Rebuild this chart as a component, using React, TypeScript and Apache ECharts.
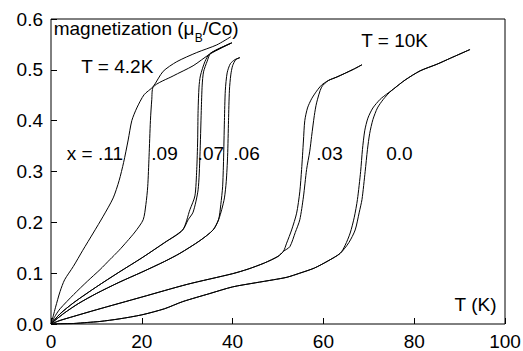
import React, { useEffect, useRef } from "react";
import * as echarts from "echarts";

// axis ticks
const xTickValues = [0, 20, 40, 60, 80, 100];
const yTickValues = [0, 0.1, 0.2, 0.3, 0.4, 0.5, 0.6];

// x = .11 (single curve)
const x11: number[][] = [
  [0, 0], [0.5, 0.016], [1, 0.033], [2, 0.064], [3, 0.087], [4.9, 0.113], [7, 0.145],
  [9.3, 0.179], [11.5, 0.212], [13.7, 0.248], [15, 0.282], [16, 0.318], [17, 0.362],
  [17.8, 0.4], [18.9, 0.425], [20.5, 0.451], [22.5, 0.467], [24.7, 0.497], [27.7, 0.516],
  [32.1, 0.534], [36.5, 0.549], [39.6, 0.565],
];

// x = .09 (single curve)
const x09: number[][] = [
  [0, 0], [1, 0.017], [2, 0.03], [5, 0.058], [8, 0.084], [10.8, 0.107], [13, 0.127],
  [15, 0.145], [16.7, 0.162], [18.5, 0.181], [20.3, 0.205], [20.9, 0.235], [21.3, 0.27],
  [21.6, 0.33], [21.9, 0.4], [22.2, 0.442], [22.5, 0.466], [26.9, 0.488], [31.3, 0.508],
  [35, 0.531], [39.8, 0.553],
];

// x = .07 (two curves sharing the low-field part)
const x07Low: number[][] = [
  [0, 0], [2, 0.02], [5, 0.042], [10, 0.073], [15, 0.102], [20, 0.13], [25, 0.16], [29, 0.185],
];
const x07Left: number[][] = [
  [30.6, 0.225], [31.7, 0.252], [32.1, 0.304], [32.3, 0.36], [32.4, 0.42], [32.6, 0.466],
  [32.9, 0.488], [33.9, 0.516], [35, 0.532], [39.8, 0.553],
];
const x07Right: number[][] = [
  [30.2, 0.205], [31.3, 0.22], [32.4, 0.264], [32.8, 0.33], [33.1, 0.42], [33.3, 0.47],
  [33.6, 0.496], [34.4, 0.517], [35.2, 0.533], [39.8, 0.553],
];

// x = .06
const x06Low: number[][] = [
  [0, 0], [1, 0.008], [3, 0.022], [6, 0.04], [10, 0.06], [15, 0.082], [20, 0.102],
  [25, 0.123], [28.4, 0.139], [32.8, 0.164], [35.7, 0.185], [36.9, 0.205],
];
const x06Left: number[][] = [
  [37.4, 0.235], [37.8, 0.27], [38.0, 0.32], [38.2, 0.4], [38.4, 0.46], [38.8, 0.494],
  [39.5, 0.512], [40.5, 0.52], [41.6, 0.524],
];
const x06Right: number[][] = [
  [37.6, 0.225], [38.2, 0.248], [38.6, 0.28], [38.9, 0.33], [39.1, 0.4], [39.3, 0.46],
  [39.6, 0.49], [40.0, 0.508], [40.7, 0.52], [41.6, 0.524],
];

// x = .03
const x03Low: number[][] = [
  [0, 0], [2, 0.007], [5, 0.015], [10, 0.028], [20, 0.053], [30, 0.078], [40, 0.099],
  [43.4, 0.108], [47, 0.12], [50, 0.133], [51.2, 0.143],
];
const x03Left: number[][] = [
  [51.9, 0.159], [53, 0.185], [54.1, 0.218], [54.8, 0.26], [55.2, 0.304], [55.6, 0.36],
  [55.9, 0.4], [56.5, 0.425], [57.4, 0.443], [58.5, 0.458], [59.6, 0.47], [61.1, 0.479],
  [63, 0.486], [66.6, 0.501], [68.5, 0.51],
];
const x03Right: number[][] = [
  [52.6, 0.152], [53.8, 0.18], [54.8, 0.205], [55.6, 0.25], [56.3, 0.304], [57, 0.34],
  [57.4, 0.369], [58, 0.41], [58.5, 0.435], [59.6, 0.466], [61.1, 0.479], [63, 0.486],
  [66.6, 0.501], [68.5, 0.51],
];

// x = 0.0
const x00Low: number[][] = [
  [0, 0], [5, 0.001], [8, 0.003], [10.8, 0.005], [15, 0.01], [20, 0.018], [25, 0.03],
  [29, 0.044], [35, 0.06], [40, 0.073], [45, 0.081], [49, 0.087], [52, 0.092], [54.8, 0.1],
  [58, 0.11], [61, 0.124], [63.7, 0.139],
];
const x00Left: number[][] = [
  [64.8, 0.155], [65.9, 0.179], [66.8, 0.21], [67.5, 0.245], [68.2, 0.3], [68.6, 0.343],
  [69.1, 0.38], [69.8, 0.405], [70.9, 0.425], [72.5, 0.442], [73.9, 0.452], [75.4, 0.462],
];
const x00Right: number[][] = [
  [65.6, 0.16], [67, 0.185], [67.9, 0.22], [68.5, 0.245], [69.2, 0.3], [69.7, 0.343],
  [70.2, 0.375], [70.9, 0.402], [71.9, 0.425], [73.2, 0.442], [74.5, 0.455], [75.4, 0.462],
];
const x00High: number[][] = [
  [78, 0.48], [81.3, 0.498], [85, 0.511], [88, 0.523], [92.3, 0.54],
];

const curves: number[][][] = [
  x11,
  x09,
  [...x07Low, ...x07Left],
  [...x07Low, ...x07Right],
  [...x06Low, ...x06Left],
  [...x06Low, ...x06Right],
  [...x03Low, ...x03Left],
  [...x03Low, ...x03Right],
  [...x00Low, ...x00Left, ...x00High],
  [...x00Low, ...x00Right, ...x00High],
];

// annotation texts
const yTitleMain = "magnetization (μ";
const yTitleSub = "B";
const yTitleEnd = "/Co)";
const labelT42 = "T = 4.2K";
const labelT10 = "T = 10K";
const compLabels = ["x = .11", ".09", ".07", ".06", ".03", "0.0"];
const xTitle = "T (K)";

const FONT = "'Liberation Sans', Arial, Helvetica, sans-serif";

function txt(text: string, x: number, y: number, size = 19) {
  return {
    type: "text",
    x,
    y,
    silent: true,
    style: {
      text,
      fill: "#000",
      fontSize: size,
      fontFamily: FONT,
      align: "left",
      verticalAlign: "middle",
      textAlign: "left",
      textVerticalAlign: "middle",
    },
  };
}

export default function App() {
  const ref = useRef<HTMLDivElement>(null);
  useEffect(() => {
    if (!ref.current) return;
    const chart = echarts.init(ref.current, undefined, { renderer: "svg" });
    const compX = [66.8, 151.3, 197.6, 233.3, 316.3, 386.2];
    chart.setOption({
      animation: false,
      backgroundColor: "#fff",
      grid: {
        left: 51,
        right: 18,
        top: 19,
        bottom: 27,
        show: true,
        borderColor: "#000",
        borderWidth: 1,
        backgroundColor: "transparent",
        outerBoundsMode: "none",
        containLabel: false,
      },
      xAxis: {
        type: "value",
        min: xTickValues[0],
        max: xTickValues[xTickValues.length - 1],
        interval: 20,
        axisLine: { show: false },
        axisTick: { show: true, inside: true, length: 6, lineStyle: { color: "#000", width: 1 } },
        splitLine: { show: false },
        axisLabel: { color: "#000", fontSize: 19, fontFamily: FONT, margin: 8, hideOverlap: false },
      },
      yAxis: {
        type: "value",
        min: yTickValues[0],
        max: yTickValues[yTickValues.length - 1],
        interval: 0.1,
        axisLine: { show: false },
        axisTick: { show: true, inside: true, length: 6, lineStyle: { color: "#000", width: 1 } },
        splitLine: { show: false },
        axisLabel: {
          color: "#000",
          fontSize: 19,
          fontFamily: FONT,
          margin: 8,
          formatter: (v: number) => v.toFixed(1),
        },
      },
      series: curves.map((d) => ({
        type: "line",
        data: d,
        showSymbol: false,
        symbol: "none",
        smooth: 0.25,
        lineStyle: { color: "#000", width: 1 },
        silent: true,
      })),
      graphic: [
        txt(yTitleMain, 53.7, 28.4),
        txt(yTitleSub, 194.8, 37.5, 12),
        txt(yTitleEnd, 202.8, 28.4),
        txt(labelT42, 81.3, 66.7),
        txt(labelT10, 361.3, 40),
        ...compLabels.map((t, i) => txt(t, compX[i], 153)),
        txt(xTitle, 454.6, 304),
      ],
    });
    return () => chart.dispose();
  }, []);
  return (
    <div
      ref={ref}
      style={{ position: "fixed", left: 0, top: 0, width: 523, height: 351, background: "#fff" }}
    />
  );
}
